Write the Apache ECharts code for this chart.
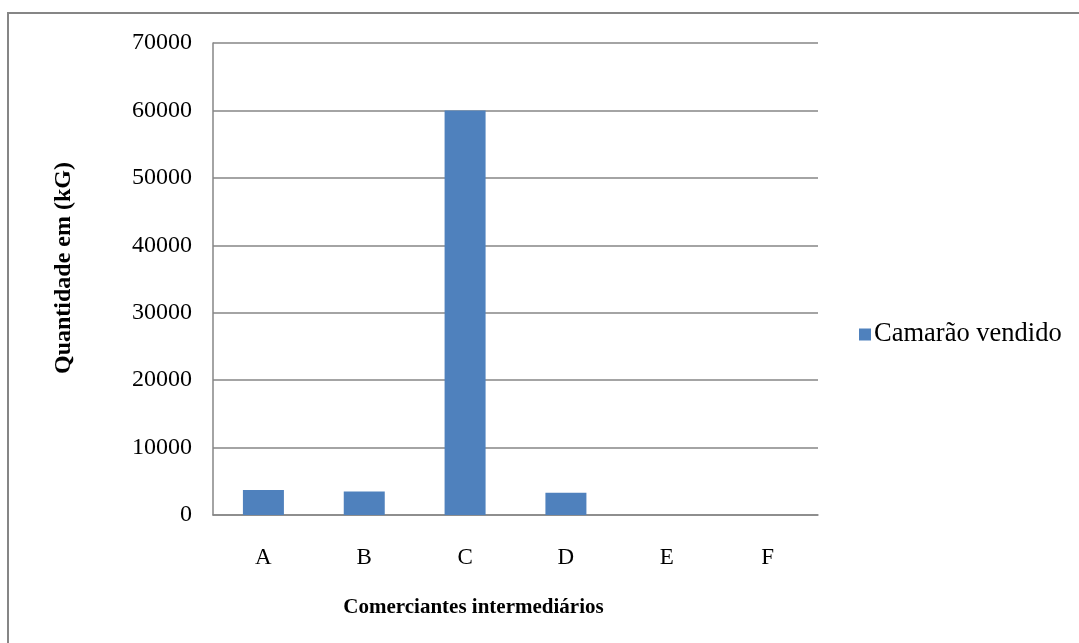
<!DOCTYPE html>
<html>
<head>
<meta charset="utf-8">
<script src="https://cdn.jsdelivr.net/npm/echarts@6/dist/echarts.min.js"></script>
<style>
  html, body { margin: 0; padding: 0; background: #fff; }
  #chart { width: 1079px; height: 643px; }
</style>
</head>
<body>
<div id="chart"></div>
<script>
// Shrimp sold per intermediary trader (kg)
const categories = ['A', 'B', 'C', 'D', 'E', 'F'];
const camaraoVendido = [3700, 3500, 60000, 3300, 0, 0];
const seriesName = 'Camarão vendido';
const xTitle = 'Comerciantes intermediários';
const yTitle = 'Quantidade em (kG)';

const chart = echarts.init(document.getElementById('chart'), null, { renderer: 'canvas' });
const serif = '"Liberation Serif", "DejaVu Serif", serif';

chart.setOption({
  animation: false,
  backgroundColor: '#fff',
  graphic: [{
    type: 'rect',
    shape: { x: 8, y: 13, width: 1200, height: 800 },
    style: { fill: 'none', stroke: '#868686', lineWidth: 2 },
    silent: true
  }],
  grid: { left: 213, top: 43, width: 605, height: 472, containLabel: false },
  legend: {
    data: [seriesName],
    left: 854, top: 316,
    itemWidth: 12, itemHeight: 12, itemGap: 8,
    icon: 'rect',
    textStyle: { fontFamily: serif, fontSize: 26.5, color: '#000', padding: [0, 0, 0, -2] }
  },
  xAxis: {
    type: 'category',
    data: categories,
    name: xTitle,
    nameLocation: 'middle',
    nameGap: 82,
    nameTextStyle: {
      fontFamily: serif, fontSize: 21, fontWeight: 'bold', color: '#000',
      padding: [0, 84, 0, 0]
    },
    axisLine: { lineStyle: { color: '#868686', width: 1.5 } },
    axisTick: { show: false },
    axisLabel: { fontFamily: serif, fontSize: 23, color: '#000', margin: 31 }
  },
  yAxis: {
    type: 'value',
    min: 0, max: 70000, interval: 10000,
    name: yTitle,
    nameLocation: 'middle',
    nameGap: 137,
    nameRotate: 90,
    nameTextStyle: {
      fontFamily: serif, fontSize: 24, fontWeight: 'bold', color: '#000',
      padding: [0, 0, 0, 22]
    },
    axisLine: { show: true, lineStyle: { color: '#868686', width: 1.5 } },
    axisTick: { show: false },
    splitLine: { lineStyle: { color: '#868686', width: 1.5 } },
    axisLabel: {
      fontFamily: serif, fontSize: 24, color: '#000', margin: 21,
      formatter: v => String(v)
    }
  },
  series: [{
    name: seriesName,
    type: 'bar',
    data: camaraoVendido,
    barWidth: 41,
    itemStyle: { color: '#4f81bd' }
  }]
});
</script>
</body>
</html>
